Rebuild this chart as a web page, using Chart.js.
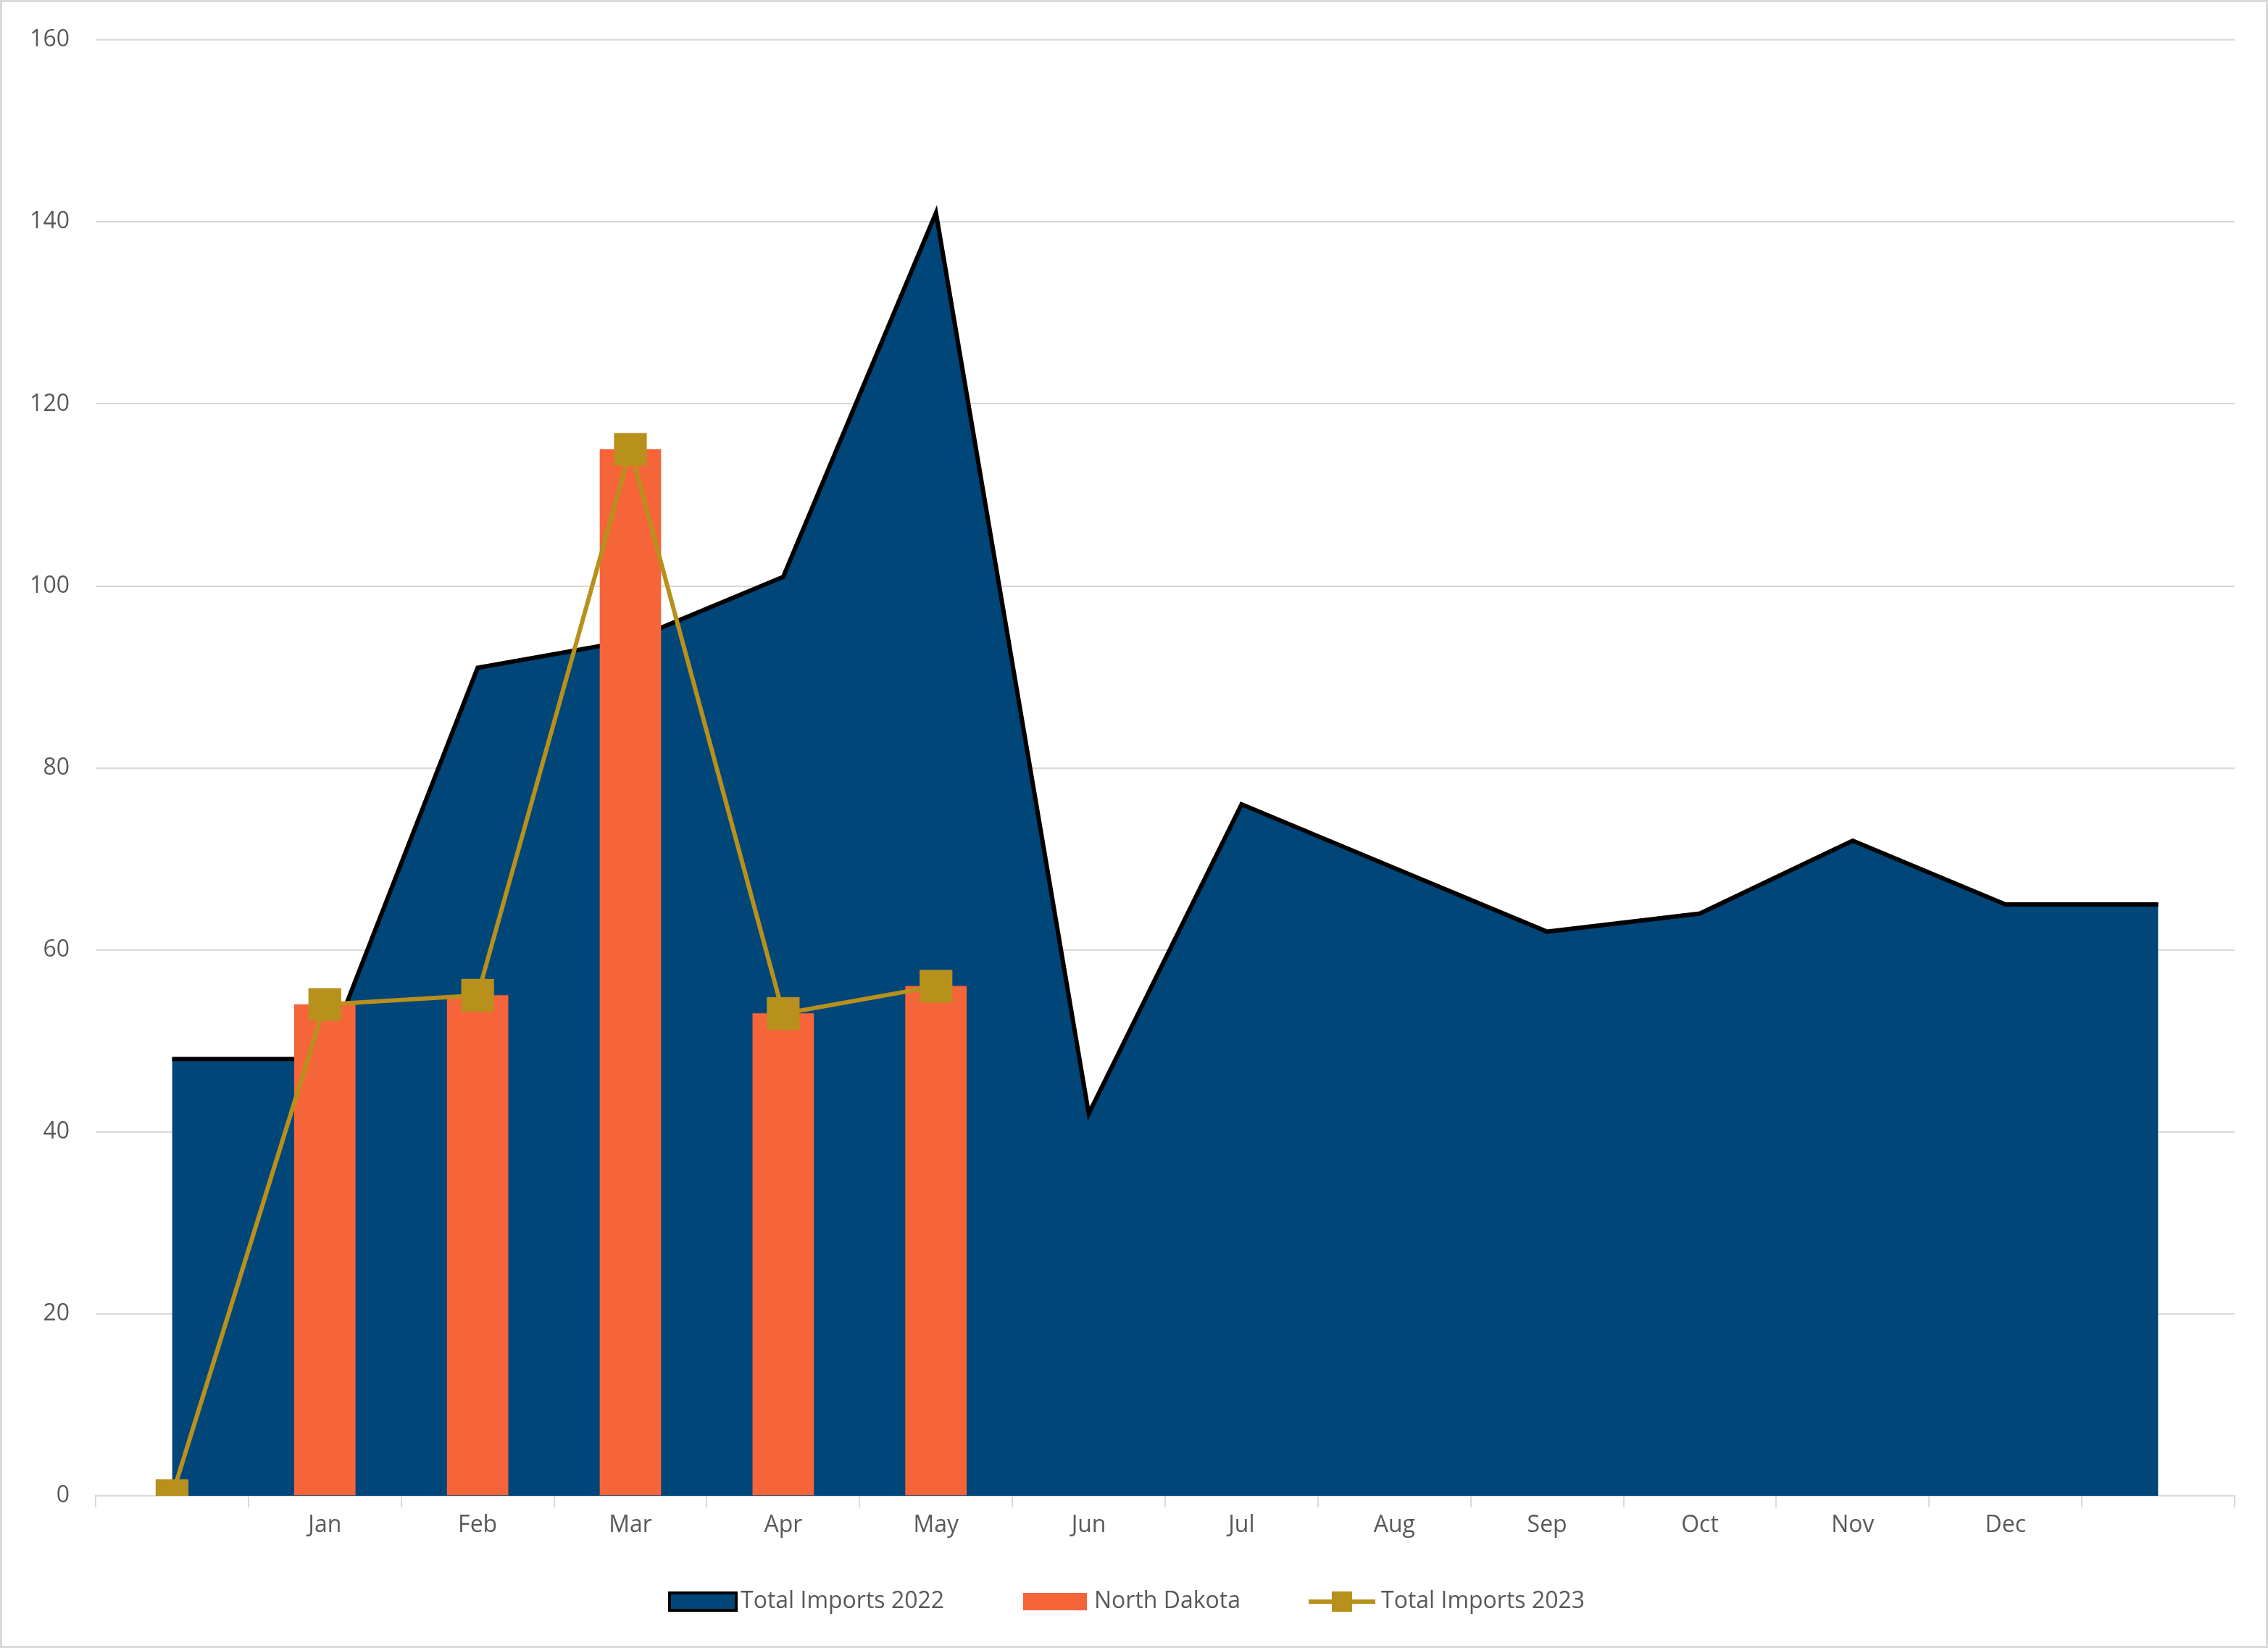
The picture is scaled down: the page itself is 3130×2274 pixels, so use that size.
<!DOCTYPE html>
<html><head><meta charset="utf-8">
<script src="https://cdn.jsdelivr.net/npm/chart.js@4/dist/chart.umd.min.js"></script>
<style>body{margin:0;background:#fff}canvas{display:block}</style>
</head><body>
<canvas id="c" width="3130" height="2274"></canvas>
<script>
const categories = ["", "Jan","Feb","Mar","Apr","May","Jun","Jul","Aug","Sep","Oct","Nov","Dec",""];
const imports2022 = [48,48,91,94,101,141,42,76,69,62,64,72,65,65];
const northDakota = [null,54,55,115,53,56,null,null,null,null,null,null,null,null];
const imports2023 = [0,54,55,115,53,56,null,null,null,null,null,null,null,null];
const yTicks = [0,20,40,60,80,100,120,140,160];
const FONT = "'Open Sans', 'Liberation Sans', sans-serif";
const TXT = '#595959';

const legendPlugin = {
  id:'customLegend',
  afterDraw(chart){
    const ctx = chart.ctx;
    ctx.save();
    ctx.strokeStyle='#d9d9d9'; ctx.lineWidth=3;
    ctx.strokeRect(1.5,1.5,chart.width-3,chart.height-3);
    ctx.font = '32px ' + FONT;
    ctx.fillStyle = TXT; ctx.textBaseline='middle';
    const y = 2210;
    // item 1
    ctx.fillStyle='#004678'; ctx.fillRect(924,2198,92,24);
    ctx.strokeStyle='#000'; ctx.lineWidth=4; ctx.strokeRect(924,2198,92,24);
    ctx.fillStyle=TXT; ctx.fillText(chart.data.datasets[0].label,1022,y);
    ctx.fillStyle='#F6653A'; ctx.fillRect(1412,2198,88,24);
    ctx.fillStyle=TXT; ctx.fillText(chart.data.datasets[1].label,1510,y);
    ctx.strokeStyle='#B8901C'; ctx.lineWidth=6;
    ctx.beginPath(); ctx.moveTo(1806,y); ctx.lineTo(1898,y); ctx.stroke();
    ctx.fillStyle='#B8901C'; ctx.fillRect(1838,y-14,28,28);
    ctx.fillStyle=TXT; ctx.fillText(chart.data.datasets[2].label,1906,y);
    ctx.restore();
  }
};

new Chart(document.getElementById('c'), {
  data: {
    labels: categories,
    datasets: [
      {type:'line', label:'Total Imports 2022', data:imports2022, fill:'origin',
       backgroundColor:'#004678', borderColor:'#000', borderWidth:6, pointRadius:0, tension:0, order:3},
      {type:'bar', label:'North Dakota', data:northDakota, backgroundColor:'#F6653A',
       barThickness:84, order:2},
      {type:'line', label:'Total Imports 2023', data:imports2023, borderColor:'#B8901C',
       backgroundColor:'#B8901C', borderWidth:6, pointStyle:'rect', pointRadius:32,
       pointBorderWidth:0, fill:false, tension:0, order:1, spanGaps:false}
    ]
  },
  options: {
    responsive:false, devicePixelRatio:1, animation:false,
    layout:{padding:{top:50,right:46,bottom:110,left:0}},
    plugins:{legend:{display:false}, tooltip:{enabled:false}},
    scales:{
      x:{offset:true,
         grid:{offset:true, drawOnChartArea:false, color:'#d9d9d9', tickLength:16, lineWidth:2},
         border:{color:'#d9d9d9', width:2},
         ticks:{color:TXT, font:{size:32, family:FONT}, padding:6, maxRotation:0, autoSkip:false},
         afterFit(s){ s.height = 100; }},
      y:{min:0,max:160,
         afterBuildTicks(s){ s.ticks = yTicks.map(v=>({value:v})); },
         grid:{color:'#d9d9d9', lineWidth:2, drawTicks:false},
         border:{display:false},
         ticks:{color:TXT, font:{size:32, family:FONT}, padding:36},
         afterFit(s){ s.width = 132; }}
    }
  },
  plugins:[legendPlugin]
});
</script>
</body></html>
